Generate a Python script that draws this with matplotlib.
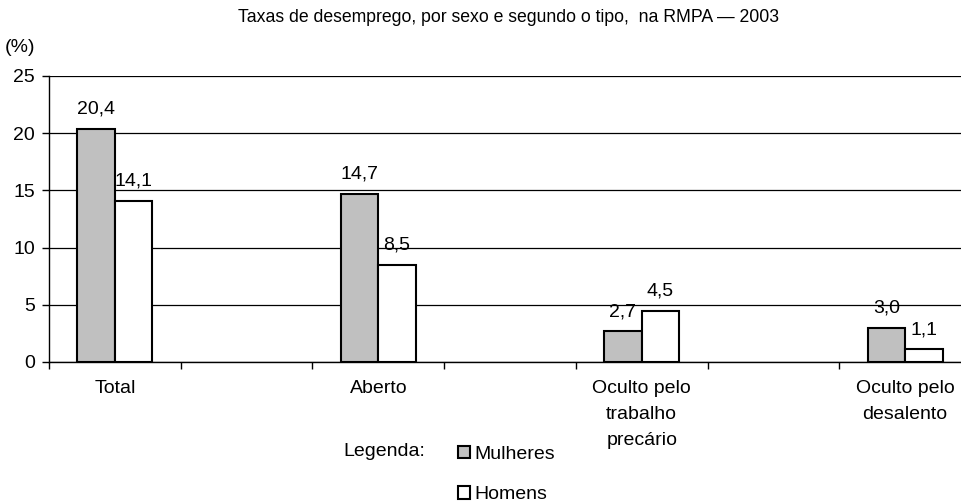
import numpy as np
from matplotlib import pyplot as plt
from matplotlib.patches import Patch

# data
categories = ["Total", "Aberto", "Oculto pelo\ntrabalho\nprecário", "Oculto pelo\ndesalento"]
mulheres = [20.4, 14.7, 2.7, 3.0]
homens = [14.1, 8.5, 4.5, 1.1]
yticks = [0, 5, 10, 15, 20, 25]

plt.rcParams["font.family"] = ["Liberation Sans", "DejaVu Sans"]
fs = 14

fig = plt.figure(figsize=(9.62, 5.04), dpi=100)
ax = fig.add_axes([49 / 962, 1 - 362 / 504, 922 / 962, 286 / 504])

# categories sit in every other slot, empty slots between them
x = np.arange(len(categories)) * 2 + 0.5
w = 0.285
b1 = ax.bar(x - w / 2, mulheres, w, color="#c0c0c0", edgecolor="black", linewidth=1.5, zorder=3)
b2 = ax.bar(x + w / 2, homens, w, color="white", edgecolor="black", linewidth=1.5, zorder=3)

for bars, vals in ((b1, mulheres), (b2, homens)):
    for r, v in zip(bars, vals):
        ax.annotate(f"{v:.1f}".replace(".", ","), (r.get_x() + r.get_width() / 2, v),
                    xytext=(0, 8), textcoords="offset points",
                    ha="center", va="bottom", fontsize=fs)

ax.set_xlim(0, 7)
ax.set_ylim(0, 25)
ax.set_yticks(yticks)
ax.set_xticks(np.arange(0, 8))
ax.set_xticklabels([])
ax.set_xticks(x, minor=True)
ax.set_xticklabels(categories, minor=True, fontsize=fs, linespacing=1.7)
ax.tick_params(axis="x", which="minor", length=0, pad=13)
ax.tick_params(axis="x", which="major", length=5, direction="out", width=1)
ax.tick_params(axis="y", length=5, direction="out", width=1, labelsize=fs, pad=5)

ax.yaxis.grid(True, color="black", linewidth=0.9, zorder=0)
for s in ("top", "right"):
    ax.spines[s].set_visible(False)
for s in ("left", "bottom"):
    ax.spines[s].set_linewidth(1)

fig.text(509 / 962, 1 - 18 / 504, "Taxas de desemprego, por sexo e segundo o tipo,  na RMPA — 2003",
         ha="center", va="center", fontsize=12.7)
fig.text(20 / 962, 1 - 48 / 504, "(%)", ha="center", va="center", fontsize=fs)

fig.text(384 / 962, 1 - 452 / 504, "Legenda:", ha="center", va="center", fontsize=fs)
handles = [Patch(facecolor="#c0c0c0", edgecolor="black", linewidth=1.5, label="Mulheres"),
           Patch(facecolor="white", edgecolor="black", linewidth=1.5, label="Homens")]
fig.legend(handles=handles, loc="upper left", bbox_to_anchor=(458 / 962, 1 - 446 / 504),
           frameon=False, fontsize=fs, handlelength=0.6, handleheight=0.6,
           handletextpad=0.25, labelspacing=1.2, borderpad=0, borderaxespad=0)

fig.savefig("out.png", dpi=100)
